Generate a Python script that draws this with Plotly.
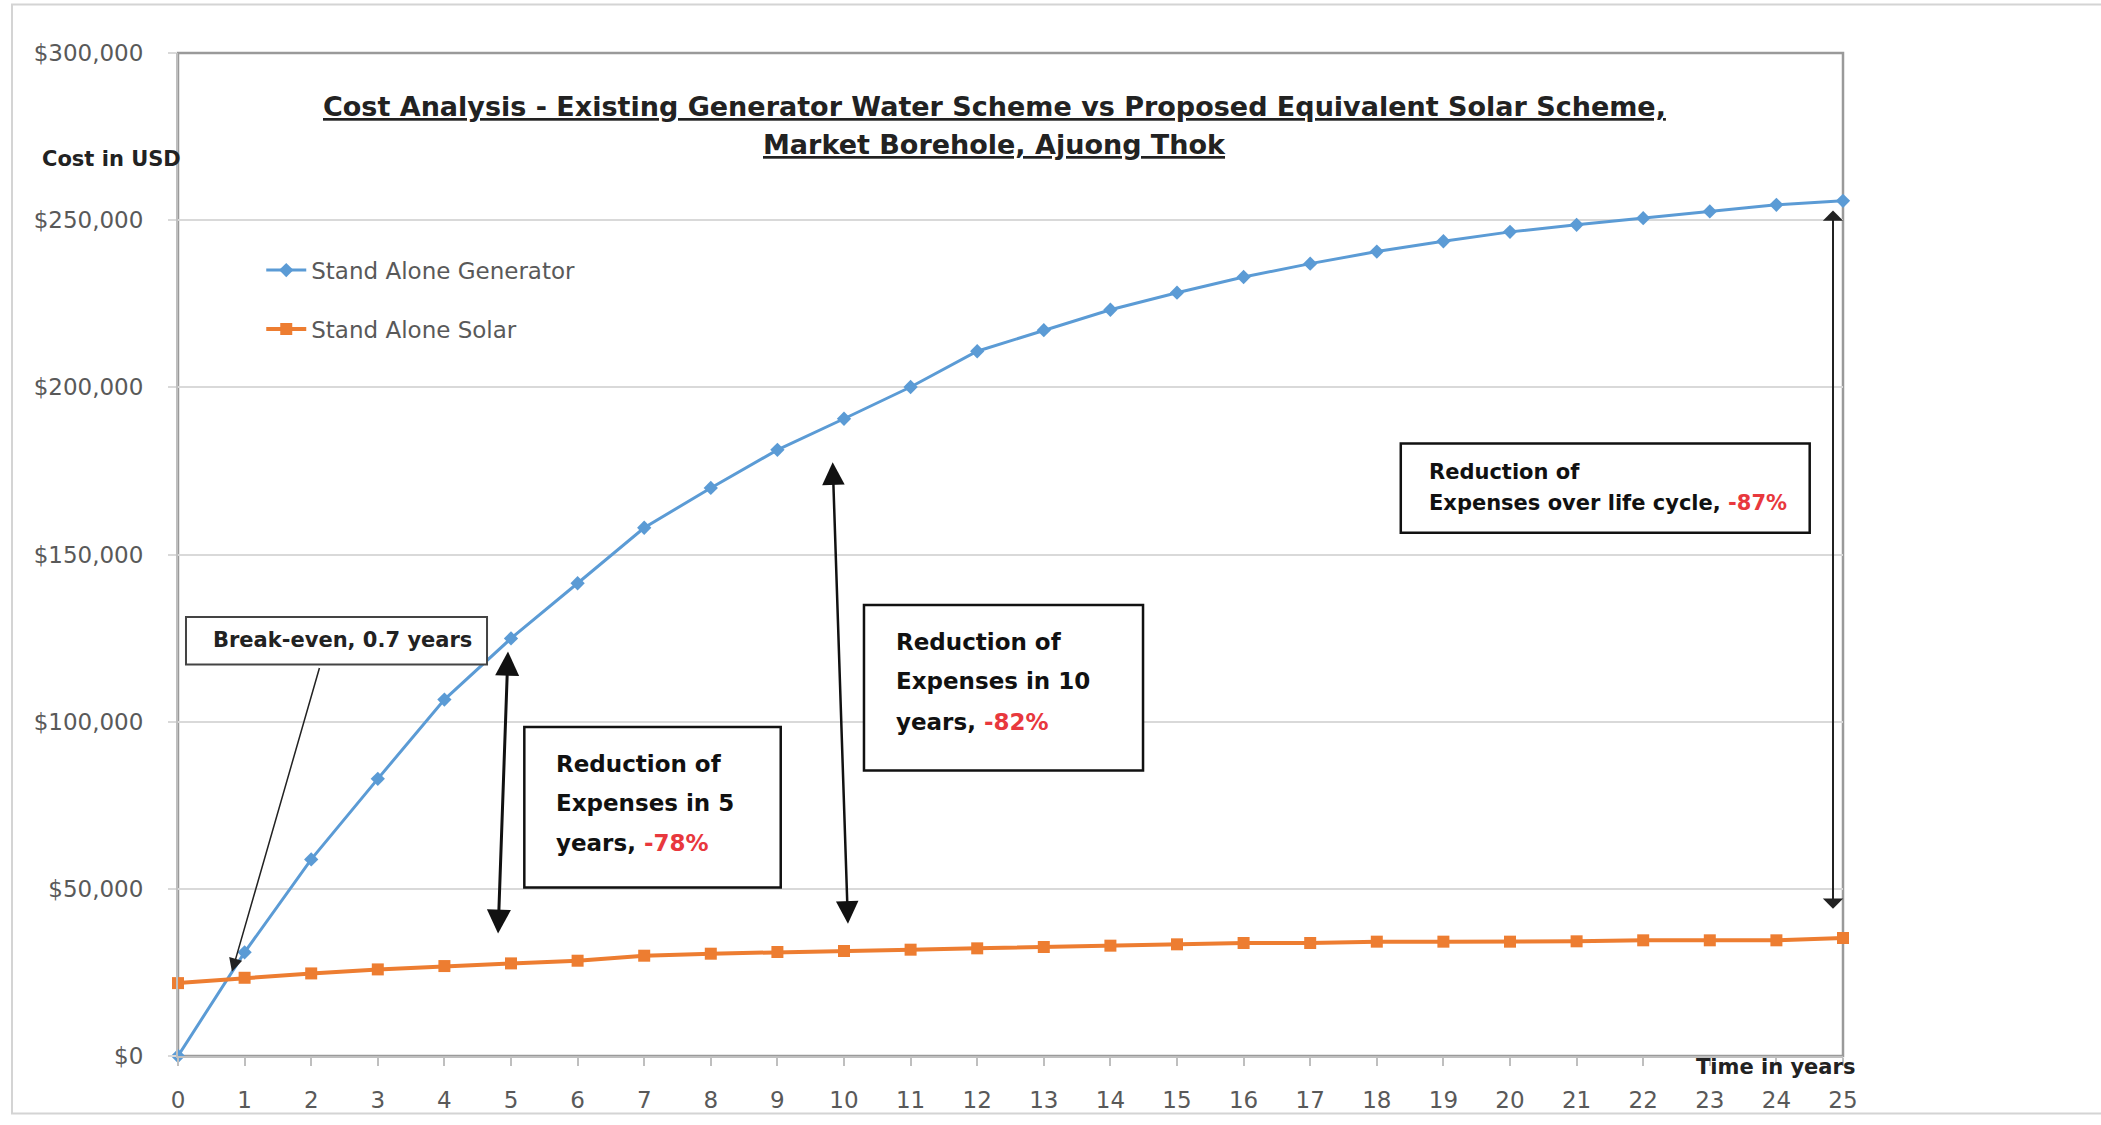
import plotly.graph_objects as go

# Cumulative cost (USD) per year of operation
years = list(range(26))
generator_cost = [0, 31000, 58800, 82900, 106600, 124900, 141400, 158000, 169900, 181300,
                  190600, 200100, 210800, 217100, 223200, 228300, 233000, 237000, 240600,
                  243700, 246500, 248600, 250600, 252600, 254600, 255800]
solar_cost = [21800, 23400, 24700, 25900, 26900, 27700, 28500, 30000, 30600, 31100,
              31400, 31800, 32200, 32600, 33000, 33400, 33800, 33800, 34200, 34200,
              34200, 34300, 34600, 34600, 34600, 35300]
y_ticks = [0, 50000, 100000, 150000, 200000, 250000, 300000]
y_tick_labels = ["$" + f"{v:,}" for v in y_ticks]

BLUE = "#5B9BD5"
ORANGE = "#ED7D31"
RED = "#E8383D"
BOLD = "DejaVu Sans"

fig = go.Figure()
fig.add_trace(go.Scatter(
    x=years, y=generator_cost, name="Stand Alone Generator", mode="lines+markers",
    line=dict(color=BLUE, width=3), marker=dict(symbol="diamond", size=11, color=BLUE),
    cliponaxis=False, legendgroup="g1"))
fig.add_trace(go.Scatter(
    x=years, y=solar_cost, name="Stand Alone Solar", mode="lines+markers",
    line=dict(color=ORANGE, width=4), marker=dict(symbol="square", size=12, color=ORANGE),
    cliponaxis=False, legendgroup="g2"))

shapes = []
annotations = []

# outer chart frame
shapes.append(dict(type="rect", xref="paper", yref="paper", x0=-0.0997, x1=1.16,
                   y0=-0.0573, y1=1.0484, line=dict(color="#d4d4d4", width=2), layer="below"))
# plot-area border
shapes.append(dict(type="rect", xref="paper", yref="paper", x0=0, x1=1, y0=0, y1=1,
                   line=dict(color="#9a9a9a", width=2.5), layer="below"))


def box(x0, x1, y0, y1, width=2.5, color="#111"):
    shapes.append(dict(type="rect", xref="x", yref="y", x0=x0, x1=x1, y0=y0, y1=y1,
                       fillcolor="white", line=dict(color=color, width=width), layer="above"))


def label(x, y, text, size, xref="x", yref="y", xanchor="left", color="#111"):
    annotations.append(dict(x=x, y=y, xref=xref, yref=yref, text=text, showarrow=False,
                            xanchor=xanchor, yanchor="middle",
                            font=dict(family=BOLD, size=size, color=color)))


def arrow(x, y, ax, ay, width, head, size, both=True, color="#111"):
    annotations.append(dict(x=x, y=y, ax=ax, ay=ay, xref="x", yref="y", axref="x", ayref="y",
                            text="", showarrow=True, arrowcolor=color, arrowwidth=width,
                            arrowhead=head, arrowsize=size,
                            startarrowhead=head, startarrowsize=size,
                            arrowside="end+start" if both else "end"))


# title
label(0.4901, 0.9466, "<b><u>Cost Analysis - Existing Generator Water Scheme vs Proposed Equivalent Solar Scheme,</u></b>",
      27, xref="paper", yref="paper", xanchor="center", color="#222")
label(0.4901, 0.9091, "<b><u>Market Borehole, Ajuong Thok</u></b>",
      27, xref="paper", yref="paper", xanchor="center", color="#222")
label(-0.0402, 0.8943, "<b>Cost in USD</b>", 21, xref="paper", yref="paper",
      xanchor="center", color="#222")
label(0.9592, -0.0105, "<b>Time in years</b>", 21, xref="paper", yref="paper",
      xanchor="center", color="#222")

# break-even callout
box(0.12, 4.64, 117100, 131300, width=2, color="#444")
label(0.50, 124500, "<b>Break-even, 0.7 years</b>", 21, color="#222")
arrow(0.81, 25200, 2.13, 116500, 1.5, 2, 1.8, both=False, color="#222")

# 5-year reduction
box(5.20, 9.05, 50400, 98400)
label(5.65, 87450, "<b>Reduction of</b>", 23)
label(5.65, 75600, "<b>Expenses in 5</b>", 23)
label(5.65, 63700, f"<b>years, <span style='color:{RED}'>-78%</span></b>", 23)
arrow(4.955, 120950, 4.805, 36170, 3, 2, 1.6)

# 10-year reduction
box(10.30, 14.49, 85400, 134900)
label(10.75, 123900, "<b>Reduction of</b>", 23)
label(10.75, 112050, "<b>Expenses in 10</b>", 23)
label(10.75, 99900, f"<b>years, <span style='color:{RED}'>-82%</span></b>", 23)
arrow(9.83, 177570, 10.06, 39130, 2.5, 2, 1.8)

# life-cycle reduction
box(18.36, 24.50, 156500, 183200)
label(18.75, 174700, "<b>Reduction of</b>", 21)
label(18.75, 165400, f"<b>Expenses over life cycle, <span style='color:{RED}'>-87%</span></b>", 21)
arrow(24.85, 252870, 24.85, 43580, 2, 1, 1.7, color="#222")

fig.update_layout(
    width=2101, height=1125,
    margin=dict(l=178, r=258, t=53, b=60),
    paper_bgcolor="white", plot_bgcolor="white",
    font=dict(family="DejaVu Sans", size=23, color="#595959"),
    showlegend=True,
    legend=dict(x=0.05, y=0.805, xanchor="left", yanchor="top", bgcolor="rgba(0,0,0,0)",
                font=dict(size=23, color="#595959"), traceorder="grouped",
                tracegroupgap=26, itemwidth=40),
    shapes=shapes,
    annotations=annotations,
)
fig.update_xaxes(range=[0, 25], tickmode="array", tickvals=years,
                 showgrid=False, zeroline=False, showline=True, linecolor="#bfbfbf", linewidth=2,
                 ticks="outside", ticklen=8, tickcolor="#bfbfbf", tickwidth=2,
                 ticklabelstandoff=14, tickfont=dict(size=23, color="#595959"))
fig.update_yaxes(range=[0, 300000], tickmode="array", tickvals=y_ticks, ticktext=y_tick_labels,
                 showgrid=True, gridcolor="#d9d9d9", gridwidth=2, zeroline=False,
                 showline=True, linecolor="#bfbfbf", linewidth=2,
                 ticks="outside", ticklen=8, tickcolor="#d9d9d9", tickwidth=2,
                 ticklabelstandoff=20, tickfont=dict(size=23, color="#595959"))

fig.write_html("out.html")
